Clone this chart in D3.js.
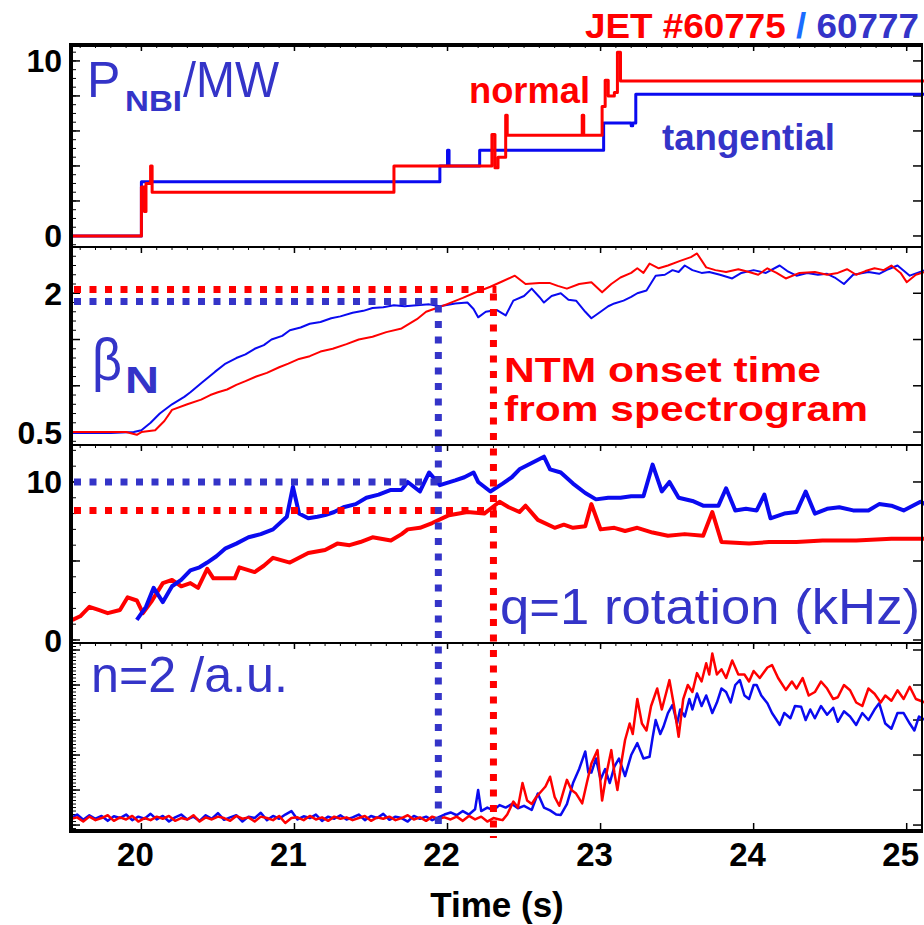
<!DOCTYPE html>
<html>
<head>
<meta charset="utf-8">
<script src="https://cdn.jsdelivr.net/npm/d3@7"></script>
<style>
  body { margin: 0; background: #fff; }
  svg { display: block; font-family: "Liberation Sans", Arial, sans-serif; }
</style>
</head>
<body>
<svg id="chart" width="924" height="925"></svg>
<script>
var RED = "#ff0000", BLUE = "#0a0af0", LBLUE = "#3434c8";

// time axis
var timeTicks = [20, 21, 22, 23, 24, 25];
var onsetBlue = 21.94, onsetRed = 22.30;
var betaAtOnset = [1.91, 2.04];   // blue, red
var rotAtOnset = [10.0, 8.2];     // blue, red

// P_NBI (MW), step traces
var pnbiRed = [[19.54,0],[20.0,2.8],[20.02,1.4],[20.03,3.0],[20.06,4.0],[20.07,2.5],[21.65,4.0],[22.29,5.8],
  [22.31,3.9],[22.33,4.5],[22.37,4.5],[22.38,6.9],[22.39,5.75],[22.88,6.9],[22.89,5.75],[23.01,7.4],[23.03,8.9],
  [23.05,8.0],[23.09,8.2],[23.11,10.5],[23.13,8.85],[25.12,8.85]];
var pnbiBlue = [[19.54,0],[20.0,3.1],[21.95,4.0],[22.0,4.9],[22.01,4.0],[22.21,4.9],[23.02,6.45],[23.2,6.3],[23.21,6.45],
  [23.23,8.1],[25.12,8.1]];

// beta_N
var betaBlue = [[19.54,0.49],[19.8,0.49],[19.95,0.5],[20.0,0.52],[20.06,0.6],[20.12,0.7],[20.2,0.8],[20.28,0.88],[20.32,0.93],
  [20.4,1.04],[20.48,1.15],[20.55,1.24],[20.62,1.3],[20.68,1.34],[20.74,1.4],[20.8,1.44],[20.85,1.5],[20.92,1.54],[20.97,1.6],
  [21.04,1.63],[21.1,1.67],[21.17,1.69],[21.24,1.73],[21.3,1.75],[21.38,1.79],[21.45,1.81],[21.51,1.84],[21.58,1.85],[21.65,1.87],
  [21.72,1.86],[21.8,1.87],[21.88,1.88],[21.95,1.86],[22.05,1.89],[22.13,1.9],[22.17,1.83],[22.2,1.74],[22.25,1.8],[22.32,1.82],
  [22.38,1.76],[22.43,1.92],[22.5,1.97],[22.55,2.05],[22.6,1.96],[22.63,1.9],[22.68,1.97],[22.74,2.0],[22.79,1.93],[22.84,1.92],
  [22.9,1.8],[22.94,1.73],[23.0,1.8],[23.05,1.86],[23.09,1.89],[23.15,1.92],[23.2,1.96],[23.24,2.0],[23.3,2.03],[23.36,2.19],
  [23.42,2.2],[23.47,2.25],[23.51,2.23],[23.55,2.3],[23.6,2.25],[23.66,2.22],[23.71,2.23],[23.78,2.2],[23.86,2.16],[23.92,2.22],
  [24.0,2.25],[24.08,2.22],[24.17,2.3],[24.22,2.24],[24.28,2.19],[24.35,2.22],[24.42,2.2],[24.48,2.21],[24.53,2.17],[24.59,2.1],
  [24.65,2.2],[24.75,2.23],[24.82,2.21],[24.88,2.26],[24.94,2.3],[25.02,2.19],[25.12,2.25]];
var betaRed = [[19.54,0.5],[19.9,0.5],[19.97,0.47],[20.0,0.5],[20.09,0.52],[20.15,0.62],[20.2,0.74],[20.3,0.8],[20.39,0.85],
  [20.45,0.9],[20.5,0.93],[20.56,0.96],[20.62,1.01],[20.68,1.05],[20.75,1.1],[20.82,1.14],[20.9,1.2],[20.96,1.24],[21.03,1.29],
  [21.1,1.32],[21.17,1.37],[21.25,1.4],[21.34,1.45],[21.42,1.5],[21.51,1.53],[21.6,1.58],[21.7,1.62],[21.8,1.72],[21.86,1.8],
  [21.93,1.84],[22.01,1.89],[22.1,1.95],[22.17,2.0],[22.28,2.07],[22.36,2.13],[22.44,2.19],[22.51,2.1],[22.6,2.11],[22.67,2.11],
  [22.72,2.08],[22.78,2.05],[22.86,2.1],[22.94,2.12],[23.01,2.01],[23.07,2.1],[23.13,2.17],[23.2,2.22],[23.24,2.27],[23.28,2.22],
  [23.32,2.32],[23.38,2.27],[23.44,2.3],[23.52,2.35],[23.59,2.39],[23.63,2.43],[23.69,2.28],[23.75,2.25],[23.82,2.23],[23.9,2.26],
  [23.97,2.23],[24.03,2.2],[24.09,2.27],[24.15,2.22],[24.21,2.16],[24.3,2.22],[24.4,2.23],[24.48,2.2],[24.55,2.22],[24.61,2.26],
  [24.67,2.2],[24.73,2.24],[24.79,2.27],[24.85,2.25],[24.9,2.3],[24.96,2.22],[25.0,2.12],[25.06,2.2],[25.12,2.23]];

// q=1 rotation (kHz)
var rotBlue = [[19.97,1.27],[20.03,2.1],[20.08,3.3],[20.14,2.4],[20.2,3.4],[20.26,3.8],[20.32,4.4],[20.38,4.6],[20.43,4.9],
  [20.49,5.3],[20.55,5.8],[20.62,6.1],[20.7,6.5],[20.78,6.7],[20.86,7.0],[20.95,7.8],[20.99,9.7],[21.03,8.0],[21.09,7.7],
  [21.15,7.8],[21.2,7.9],[21.26,8.1],[21.32,8.4],[21.4,8.6],[21.47,9.0],[21.55,9.2],[21.63,9.5],[21.7,9.5],[21.74,10.0],
  [21.82,9.4],[21.88,10.6],[21.95,9.8],[22.05,10.1],[22.11,10.3],[22.17,10.6],[22.2,10.0],[22.28,9.4],[22.36,9.9],[22.42,10.3],
  [22.47,10.8],[22.55,11.2],[22.63,11.6],[22.67,10.8],[22.74,10.6],[22.82,9.9],[22.9,9.3],[22.97,8.9],[23.05,9.0],[23.13,9.0],
  [23.2,9.1],[23.28,9.1],[23.34,11.1],[23.4,9.4],[23.45,10.0],[23.51,9.0],[23.6,8.8],[23.67,8.5],[23.77,8.5],[23.82,9.6],
  [23.88,8.2],[23.95,8.3],[24.02,8.2],[24.07,9.2],[24.11,7.7],[24.2,8.0],[24.28,8.1],[24.34,9.4],[24.4,8.0],[24.48,8.3],
  [24.56,8.4],[24.65,8.2],[24.75,8.2],[24.82,8.6],[24.9,8.5],[24.98,8.2],[25.09,8.75],[25.12,8.6]];
var rotRed = [[19.55,1.27],[19.6,1.5],[19.66,2.1],[19.72,1.9],[19.78,1.7],[19.86,1.9],[19.91,2.7],[19.97,2.5],[20.01,1.7],
  [20.07,2.5],[20.14,3.6],[20.2,3.8],[20.26,3.4],[20.32,3.6],[20.37,3.3],[20.43,4.5],[20.47,3.9],[20.61,3.9],[20.64,4.6],
  [20.74,4.3],[20.8,4.7],[20.86,5.2],[20.97,4.9],[21.03,5.2],[21.09,5.5],[21.2,5.7],[21.28,6.1],[21.36,6.0],[21.43,6.2],
  [21.51,6.5],[21.63,6.3],[21.7,6.7],[21.74,7.0],[21.82,7.1],[21.9,7.4],[22.01,7.9],[22.13,8.1],[22.24,8.0],[22.34,8.75],
  [22.4,8.4],[22.47,8.1],[22.51,8.5],[22.59,7.6],[22.7,7.1],[22.76,7.3],[22.82,7.1],[22.9,7.2],[22.94,8.6],[23.0,7.0],
  [23.09,7.1],[23.16,6.9],[23.24,7.1],[23.34,6.8],[23.44,6.6],[23.55,6.7],[23.67,6.6],[23.73,8.1],[23.79,6.2],[23.97,6.1],
  [24.1,6.2],[24.28,6.2],[24.45,6.3],[24.67,6.3],[24.9,6.4],[25.12,6.4]];

// n=2 amplitude (a.u.)
var n2Blue = [[19.54,0.2],[19.58,0.3],[19.62,0.15],[19.66,0.28],[19.7,0.18],[19.74,0.26],[19.78,0.12],[19.82,0.25],[19.86,0.2],
  [19.9,0.3],[19.94,0.14],[19.98,0.24],[20.02,0.18],[20.06,0.32],[20.1,0.16],[20.14,0.26],[20.18,0.1],[20.22,0.22],[20.26,0.3],
  [20.3,0.16],[20.34,0.24],[20.38,0.12],[20.42,0.28],[20.46,0.18],[20.5,0.34],[20.54,0.15],[20.58,0.22],[20.62,0.28],[20.66,0.1],
  [20.7,0.24],[20.74,0.2],[20.78,0.35],[20.82,0.14],[20.86,0.26],[20.9,0.18],[20.94,0.3],[20.98,0.4],[21.02,0.16],[21.06,0.25],
  [21.1,0.2],[21.14,0.3],[21.18,0.12],[21.22,0.24],[21.26,0.18],[21.3,0.28],[21.34,0.16],[21.38,0.22],[21.42,0.3],[21.46,0.14],
  [21.5,0.26],[21.54,0.2],[21.58,0.32],[21.62,0.15],[21.66,0.24],[21.7,0.2],[21.74,0.1],[21.78,0.26],[21.82,0.18],[21.86,0.24],
  [21.9,0.14],[21.94,0.22],[21.98,0.3],[22.02,0.36],[22.06,0.28],[22.1,0.4],[22.14,0.3],[22.18,0.45],[22.2,1.0],[22.22,0.4],
  [22.26,0.5],[22.3,0.42],[22.34,0.57],[22.38,0.5],[22.42,0.6],[22.46,0.48],[22.5,0.55],[22.55,0.43],[22.59,0.9],[22.63,0.5],
  [22.67,0.42],[22.71,0.3],[22.74,0.29],[22.78,0.6],[22.82,1.2],[22.86,1.6],[22.9,2.1],[22.92,1.5],[22.94,1.5],[22.97,1.9],
  [23.0,1.3],[23.03,1.6],[23.06,1.2],[23.09,1.67],[23.12,1.9],[23.16,1.4],[23.2,2.0],[23.24,2.34],[23.28,1.9],[23.32,1.95],
  [23.34,2.5],[23.36,3.0],[23.39,2.6],[23.41,2.8],[23.44,3.2],[23.47,3.43],[23.5,2.9],[23.52,3.3],[23.55,3.1],[23.58,3.6],
  [23.6,3.3],[23.63,3.76],[23.66,3.4],[23.69,3.7],[23.73,3.2],[23.76,3.5],[23.79,3.9],[23.82,3.8],[23.85,3.5],[23.88,4.0],
  [23.91,4.14],[23.94,3.7],[23.97,3.6],[24.0,4.0],[24.02,4.0],[24.05,3.7],[24.09,3.48],[24.12,3.2],[24.15,3.0],[24.17,2.86],
  [24.2,3.2],[24.24,3.05],[24.27,3.4],[24.31,3.38],[24.34,3.0],[24.37,3.3],[24.4,3.05],[24.44,3.4],[24.48,3.15],[24.52,3.35],
  [24.55,2.95],[24.59,3.25],[24.63,3.1],[24.67,2.86],[24.71,3.2],[24.75,3.0],[24.79,3.3],[24.82,3.48],[24.86,2.9],[24.9,2.75],
  [24.94,3.2],[24.98,3.2],[25.02,2.9],[25.05,2.7],[25.08,3.1],[25.12,3.0]];
var n2Red = [[19.54,0.18],[19.58,0.22],[19.62,0.1],[19.66,0.24],[19.7,0.14],[19.74,0.2],[19.78,0.28],[19.82,0.12],[19.86,0.22],
  [19.9,0.16],[19.94,0.26],[19.98,0.1],[20.02,0.2],[20.06,0.14],[20.1,0.24],[20.14,0.18],[20.18,0.26],[20.22,0.12],[20.26,0.2],
  [20.3,0.16],[20.34,0.28],[20.38,0.1],[20.42,0.22],[20.46,0.16],[20.5,0.24],[20.54,0.2],[20.58,0.12],[20.62,0.26],[20.66,0.18],
  [20.7,0.22],[20.74,0.1],[20.78,0.24],[20.82,0.2],[20.86,0.14],[20.9,0.26],[20.94,0.06],[20.98,0.2],[21.02,0.22],[21.06,0.14],
  [21.1,0.26],[21.14,0.16],[21.18,0.22],[21.22,0.12],[21.26,0.24],[21.3,0.18],[21.34,0.22],[21.38,0.14],[21.42,0.2],[21.46,0.26],
  [21.5,0.12],[21.54,0.22],[21.58,0.18],[21.62,0.24],[21.66,0.14],[21.7,0.2],[21.74,0.28],[21.78,0.16],[21.82,0.22],[21.86,0.12],
  [21.9,0.24],[21.94,0.18],[21.98,0.22],[22.02,0.16],[22.06,0.24],[22.1,0.12],[22.14,0.26],[22.18,0.16],[22.22,0.24],[22.26,0.1],
  [22.3,0.2],[22.34,0.16],[22.36,0.14],[22.39,0.3],[22.43,0.67],[22.46,0.5],[22.49,1.2],[22.52,0.7],[22.55,0.6],[22.58,0.8],
  [22.6,0.9],[22.64,1.1],[22.67,1.38],[22.7,0.8],[22.73,0.55],[22.76,1.0],[22.78,1.29],[22.81,1.0],[22.84,0.9],[22.88,0.62],
  [22.91,1.2],[22.94,1.76],[22.98,2.14],[23.01,0.7],[23.04,1.5],[23.07,2.14],[23.09,1.5],[23.11,1.0],[23.14,1.9],[23.16,2.43],
  [23.19,2.9],[23.21,2.6],[23.24,3.6],[23.27,2.9],[23.3,2.7],[23.33,3.4],[23.37,3.9],[23.4,3.3],[23.43,3.8],[23.45,4.14],
  [23.48,3.4],[23.51,2.52],[23.54,3.6],[23.57,4.0],[23.6,3.8],[23.63,4.34],[23.66,4.1],[23.69,4.62],[23.71,4.3],[23.73,4.9],
  [23.76,4.3],[23.79,4.45],[23.82,4.2],[23.86,4.7],[23.9,4.3],[23.94,4.3],[23.97,4.1],[24.0,4.4],[24.04,4.2],[24.09,4.5],
  [24.12,4.57],[24.16,4.2],[24.21,3.86],[24.25,4.1],[24.28,3.9],[24.32,4.2],[24.36,3.7],[24.4,3.8],[24.44,4.1],[24.48,3.9],
  [24.52,3.6],[24.55,3.65],[24.59,4.0],[24.63,3.85],[24.67,3.5],[24.71,3.4],[24.75,3.9],[24.79,3.75],[24.83,3.5],[24.86,3.7],
  [24.9,3.55],[24.94,3.85],[24.98,3.6],[25.02,3.95],[25.06,3.6],[25.12,3.5]];

var svg = d3.select("#chart");
var xL = 71, xR = 922;

var x = d3.scaleLinear().domain([19.54, 25.1]).range([xL, xR]);

var panels = [
  {top: 45,  bottom: 247, domain: [-0.63, 10.91], major: d3.range(0, 11, 2), minor: d3.range(-0.5, 10.9, 0.5), labels: [[10,"10"],[0,"0"]]},
  {top: 247, bottom: 445, domain: [0.36, 2.5], major: [0.5, 1, 1.5, 2], minor: d3.range(0.4, 2.5, 0.1), labels: [[2,"2"],[0.5,"0.5"]]},
  {top: 445, bottom: 643, domain: [-0.19, 12.34], major: [0, 5, 10], minor: d3.range(0, 12.3, 1), labels: [[10,"10"],[0,"0"]]},
  {top: 643, bottom: 831, domain: [-0.17, 5.2], major: d3.range(0, 6, 1), minor: d3.range(-0.1, 5.2, 0.1), labels: []}
];
panels.forEach(function(p){
  p.y = d3.scaleLinear().domain(p.domain).range([p.bottom, p.top]);
});

// ticks on every panel
panels.forEach(function(p){
  var g = svg.append("g");
  g.selectAll(".ml").data(p.major).enter().append("line")
    .attr("x1", xL).attr("x2", xL + 9).attr("y1", p.y).attr("y2", p.y)
    .attr("stroke", "#000").attr("stroke-width", 1.5);
  g.selectAll(".nl").data(p.minor).enter().append("line")
    .attr("x1", xL).attr("x2", xL + 5).attr("y1", p.y).attr("y2", p.y)
    .attr("stroke", "#000").attr("stroke-width", 1);
  g.selectAll(".mr").data(p.major).enter().append("line")
    .attr("x1", xR - 9).attr("x2", xR).attr("y1", p.y).attr("y2", p.y)
    .attr("stroke", "#000").attr("stroke-width", 1.5);
  g.selectAll(".tt").data(timeTicks).enter().append("line")
    .attr("x1", x).attr("x2", x).attr("y1", p.top).attr("y2", p.top + 6)
    .attr("stroke", "#000").attr("stroke-width", 1.5);
  g.selectAll(".td").data(d3.range(19.6, 25.1, 0.1)).enter().append("line")
    .attr("x1", x).attr("x2", x).attr("y1", p.top).attr("y2", p.top + 3)
    .attr("stroke", "#000").attr("stroke-width", 1);
  g.selectAll("text").data(p.labels).enter().append("text")
    .attr("x", 62).attr("y", function(d){ return p.y(d[0]); })
    .attr("dy", "0.36em").attr("text-anchor", "end")
    .attr("font-size", 32).attr("font-weight", "bold")
    .text(function(d){ return d[1]; });
});

// bottom time ticks on last panel
var p4 = panels[3];
svg.append("g").selectAll("line").data(timeTicks).enter().append("line")
  .attr("x1", x).attr("x2", x).attr("y1", p4.bottom - 8).attr("y2", p4.bottom)
  .attr("stroke", "#000").attr("stroke-width", 1.5);

function trace(p, data, color, width, curve){
  var line = d3.line()
    .x(function(d){ return x(d[0]); })
    .y(function(d){ return p.y(d[1]); })
    .curve(curve || d3.curveLinear);
  svg.append("path").datum(data)
    .attr("d", line)
    .attr("fill", "none")
    .attr("stroke", color)
    .attr("stroke-width", width)
    .attr("stroke-linejoin", "round");
}

trace(panels[0], pnbiBlue, BLUE, 3, d3.curveStepAfter);
trace(panels[0], pnbiRed, RED, 3, d3.curveStepAfter);
trace(panels[1], betaBlue, BLUE, 2);
trace(panels[1], betaRed, RED, 2);
trace(panels[2], rotRed, RED, 4);
trace(panels[2], rotBlue, BLUE, 4);
trace(panels[3], n2Blue, BLUE, 2.5);
trace(panels[3], n2Red, RED, 2.5);

// dashed onset markers
var dash = "7,8.5";
function hdash(p, v, tEnd, color){
  svg.append("line")
    .attr("x1", xL + 3).attr("x2", x(tEnd) + 3).attr("y1", p.y(v)).attr("y2", p.y(v))
    .attr("stroke", color).attr("stroke-width", 7).attr("stroke-dasharray", dash);
}
hdash(panels[1], betaAtOnset[0], onsetBlue, LBLUE);
hdash(panels[1], betaAtOnset[1], onsetRed, RED);
hdash(panels[2], rotAtOnset[0], onsetBlue, LBLUE);
hdash(panels[2], rotAtOnset[1], onsetRed, RED);
svg.append("line")
  .attr("x1", x(onsetBlue)).attr("x2", x(onsetBlue))
  .attr("y1", panels[1].y(betaAtOnset[0]) + 4).attr("y2", 827)
  .attr("stroke", LBLUE).attr("stroke-width", 7).attr("stroke-dasharray", dash);
svg.append("line")
  .attr("x1", x(onsetRed)).attr("x2", x(onsetRed))
  .attr("y1", panels[1].y(betaAtOnset[1]) + 4).attr("y2", 838)
  .attr("stroke", RED).attr("stroke-width", 7).attr("stroke-dasharray", dash);

// frame
svg.append("line").attr("x1", xL).attr("x2", xL).attr("y1", 43).attr("y2", 833)
  .attr("stroke", "#000").attr("stroke-width", 4);
svg.append("line").attr("x1", xR).attr("x2", xR).attr("y1", 43).attr("y2", 833)
  .attr("stroke", "#000").attr("stroke-width", 2);
svg.append("line").attr("x1", xL).attr("x2", xR).attr("y1", 45).attr("y2", 45)
  .attr("stroke", "#000").attr("stroke-width", 4);
svg.append("line").attr("x1", xL).attr("x2", xR).attr("y1", 831).attr("y2", 831)
  .attr("stroke", "#000").attr("stroke-width", 4);
[247, 445, 643].forEach(function(yy){
  svg.append("line").attr("x1", xL).attr("x2", xR).attr("y1", yy).attr("y2", yy)
    .attr("stroke", "#000").attr("stroke-width", 2);
});

// x tick labels and axis title
svg.append("g").selectAll("text").data(timeTicks).enter().append("text")
  .attr("x", function(d){ return x(d) - 6; }).attr("y", 866)
  .attr("text-anchor", "middle").attr("font-size", 33).attr("font-weight", "bold")
  .text(function(d){ return d; });
svg.append("text").attr("x", 497).attr("y", 917)
  .attr("text-anchor", "middle").attr("font-size", 35).attr("font-weight", "bold")
  .text("Time (s)");

var title = svg.append("text").attr("x", 585).attr("y", 38)
  .attr("font-size", 35).attr("font-weight", "bold")
  .attr("textLength", 334).attr("lengthAdjust", "spacingAndGlyphs");
title.append("tspan").attr("fill", RED).text("JET #60775 ");
title.append("tspan").attr("fill", "#1a6cff").text("/");
title.append("tspan").attr("fill", LBLUE).text(" 60777");

// panel annotations
svg.append("text").attr("x", 87).attr("y", 97).attr("fill", LBLUE).attr("font-size", 50).text("P");
svg.append("text").attr("x", 125).attr("y", 111).attr("fill", LBLUE).attr("font-size", 29)
  .attr("font-weight", "bold").attr("textLength", 57).attr("lengthAdjust", "spacingAndGlyphs").text("NBI");
svg.append("text").attr("x", 183).attr("y", 97).attr("fill", LBLUE).attr("font-size", 50)
  .attr("textLength", 96).attr("lengthAdjust", "spacingAndGlyphs").text("/MW");

svg.append("text").attr("x", 469).attr("y", 103).attr("fill", RED)
  .attr("font-size", 37).attr("font-weight", "bold")
  .attr("textLength", 121).attr("lengthAdjust", "spacingAndGlyphs").text("normal");
svg.append("text").attr("x", 662).attr("y", 150).attr("fill", LBLUE)
  .attr("font-size", 37).attr("font-weight", "bold")
  .attr("textLength", 173).attr("lengthAdjust", "spacingAndGlyphs").text("tangential");

svg.append("text").attr("x", 92).attr("y", 380).attr("fill", LBLUE).attr("font-size", 60)
  .attr("textLength", 30).attr("lengthAdjust", "spacingAndGlyphs").text("\u03b2");
svg.append("text").attr("x", 125).attr("y", 393).attr("fill", LBLUE).attr("font-size", 36)
  .attr("font-weight", "bold").attr("textLength", 34).attr("lengthAdjust", "spacingAndGlyphs").text("N");

svg.append("text").attr("x", 504).attr("y", 382).attr("fill", RED)
  .attr("font-size", 35).attr("font-weight", "bold")
  .attr("textLength", 317).attr("lengthAdjust", "spacingAndGlyphs").text("NTM onset time");
svg.append("text").attr("x", 504).attr("y", 421).attr("fill", RED)
  .attr("font-size", 35).attr("font-weight", "bold")
  .attr("textLength", 364).attr("lengthAdjust", "spacingAndGlyphs").text("from spectrogram");

svg.append("text").attr("x", 500).attr("y", 624).attr("fill", LBLUE)
  .attr("font-size", 50).attr("textLength", 420).attr("lengthAdjust", "spacingAndGlyphs")
  .text("q=1 rotation (kHz)");
svg.append("text").attr("x", 91).attr("y", 692).attr("fill", LBLUE)
  .attr("font-size", 50).attr("textLength", 197).attr("lengthAdjust", "spacingAndGlyphs")
  .text("n=2 /a.u.");
</script>
</body>
</html>
